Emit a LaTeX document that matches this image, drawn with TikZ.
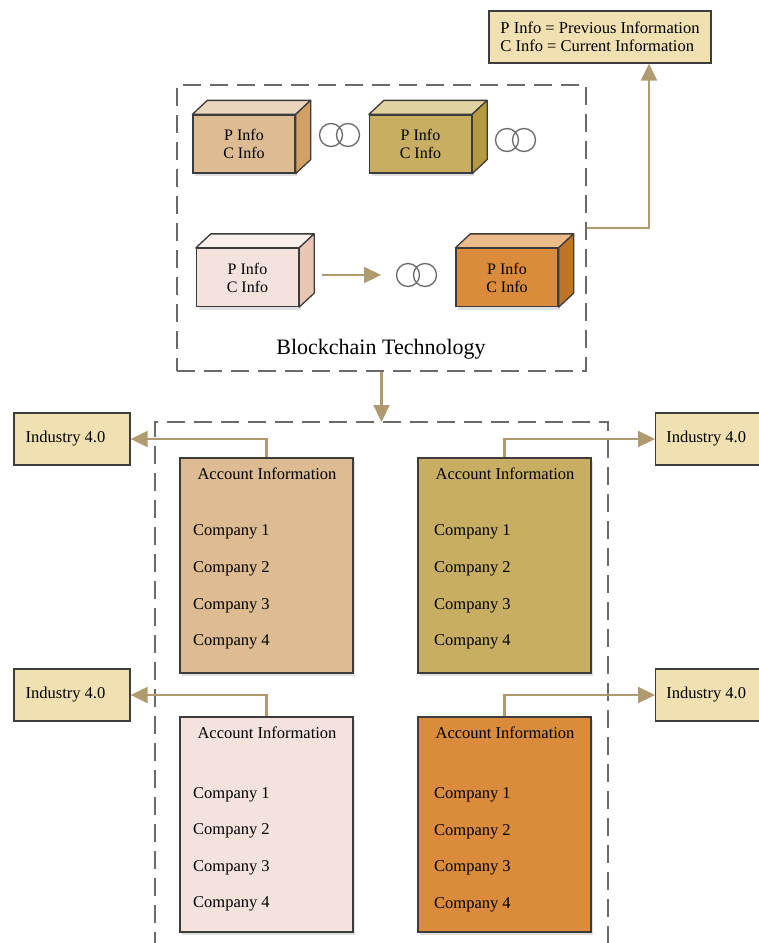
\documentclass[tikz,border=0pt]{standalone}
\usepackage{fontspec}
\setmainfont{Liberation Serif}
\usetikzlibrary{arrows.meta,shadows,positioning}
\definecolor{edge}{HTML}{3C3C3C}
\definecolor{conn}{HTML}{B09A70}
\definecolor{dashc}{HTML}{6A6A6A}
\definecolor{legfill}{HTML}{F1E0B2}
\definecolor{cAf}{HTML}{DDBB93}\definecolor{cAt}{HTML}{EBD5BC}\definecolor{cAs}{HTML}{D0A066}
\definecolor{cBf}{HTML}{C8AE62}\definecolor{cBt}{HTML}{E0D3A0}\definecolor{cBs}{HTML}{B59A40}
\definecolor{cCf}{HTML}{F4E3DC}\definecolor{cCt}{HTML}{FAF0EB}\definecolor{cCs}{HTML}{EAC7B5}
\definecolor{cDf}{HTML}{DB8B3C}\definecolor{cDt}{HTML}{EDBB8A}\definecolor{cDs}{HTML}{C07428}
\tikzset{
  front/.style={draw=edge, line width=1.3pt, minimum width=102pt, minimum height=58pt, inner sep=0pt, align=center, font=\fontsize{16}{18}\selectfont},
  facet/.style={draw=edge, line width=1.3pt, line join=round},
  ring/.style={circle, draw=dashc, line width=1.3pt, minimum size=23pt, inner sep=0pt},
  dbox/.style={draw=dashc, line width=1.6pt, dash pattern=on 18pt off 9pt},
  conn/.style={draw=conn, line width=2.2pt},
  tip/.style={-{Triangle[length=17pt,width=16pt]}},
  acct/.style={draw=edge, line width=1.3pt, minimum width=173pt, minimum height=215pt, inner sep=0pt,
     drop shadow={opacity=0.25, shadow xshift=2pt, shadow yshift=-3pt}},
  txt/.style={font=\fontsize{16.5}{18}\selectfont, inner sep=0pt},
  ind/.style={draw=edge, line width=1.3pt, fill=legfill, minimum width=116pt, minimum height=52pt, inner sep=0pt, font=\fontsize{16.5}{18}\selectfont}
}
\newcommand{\mycube}[4]{%
  \fill[#3, facet] (#1.north west) -- ++(15,-14) -- ([shift={(15,-14)}]#1.north east) -- (#1.north east) -- cycle;
  \fill[#4, facet] (#1.north east) -- ++(15,-14) -- ([shift={(15,-14)}]#1.south east) -- (#1.south east) -- cycle;
}
\begin{document}
\begin{tikzpicture}[x=1pt,y=-1pt]
\useasboundingbox (0,0) rectangle (759,943);
\fill[white] (0,0) rectangle (759,943);

% legend
\node[draw=edge, line width=1.3pt, fill=legfill, minimum width=222pt, minimum height=52pt, align=left, inner sep=0pt, font=\fontsize{16.5}{18}\selectfont] (leg) at (600,37) {P Info = Previous Information\\C Info = Current Information};

% top dashed box
\node[dbox, minimum width=409pt, minimum height=286pt, inner sep=0pt] (top) at (381.5,228) {};
\node[font=\fontsize{22}{24}\selectfont, inner sep=0pt] (bt) at (381,349) {Blockchain Technology};

% cubes
\node[front, fill=cAf, drop shadow={opacity=0.25, shadow xshift=2pt, shadow yshift=-3pt}] (b1) at (244,144) {P Info\\C Info};
\mycube{b1}{}{cAt}{cAs}
\node[front, fill=cBf, drop shadow={opacity=0.25, shadow xshift=2pt, shadow yshift=-3pt}] (b2) at (420.5,144) {P Info\\C Info};
\mycube{b2}{}{cBt}{cBs}
\node[front, fill=cCf, drop shadow={opacity=0.25, shadow xshift=2pt, shadow yshift=-3pt}] (b3) at (247.5,277.5) {P Info\\C Info};
\mycube{b3}{}{cCt}{cCs}
\node[front, fill=cDf, drop shadow={opacity=0.25, shadow xshift=2pt, shadow yshift=-3pt}] (b4) at (507,277.5) {P Info\\C Info};
\mycube{b4}{}{cDt}{cDs}

% rings
\node[ring] (r1a) at (331,135) {};
\node[ring] (r1b) at (348,135) {};
\node[ring] (r2a) at (507,140) {};
\node[ring] (r2b) at (524,140) {};
\node[ring] (r3a) at (408,275) {};
\node[ring] (r3b) at (425,275) {};

\coordinate (a3s) at (322,275);
\coordinate (a3e) at (381,275);
\draw[conn, tip] (a3s) -- (a3e);

% arrow to legend
\coordinate (lc) at (649,228);
\draw[conn, tip] (top.east) -- (lc) -- (lc |- leg.south);

% bottom dashed box (open at the bottom)
\coordinate (bl) at (155,422);
\coordinate (br) at (608,422);
\draw[dbox] (155,950) -- (bl) -- (br) -- (608,950);
\draw[conn, tip] (top.south) -- (top.south |- bl);

% account boxes
\node[acct, fill=cAf] (a1) at (266.5,565.5) {};
\node[acct, fill=cBf] (a2) at (504.5,565.5) {};
\node[acct, fill=cCf] (a3) at (266.5,824.5) {};
\node[acct, fill=cDf] (a4) at (504.5,824.5) {};

\node[txt] (a1h) at (267,474) {Account Information};
\node[txt, anchor=west] (a1c1) at (193,532) {Company 1};
\node[txt, anchor=west] (a1c2) at (193,569) {Company 2};
\node[txt, anchor=west] (a1c3) at (193,606) {Company 3};
\node[txt, anchor=west] (a1c4) at (193,642) {Company 4};

\node[txt] (a2h) at (505,474) {Account Information};
\node[txt, anchor=west] (a2c1) at (434,532) {Company 1};
\node[txt, anchor=west] (a2c2) at (434,569) {Company 2};
\node[txt, anchor=west] (a2c3) at (434,606) {Company 3};
\node[txt, anchor=west] (a2c4) at (434,642) {Company 4};

\node[txt] (a3h) at (267,733) {Account Information};
\node[txt, anchor=west] (a3c1) at (193,795) {Company 1};
\node[txt, anchor=west] (a3c2) at (193,831) {Company 2};
\node[txt, anchor=west] (a3c3) at (193,868) {Company 3};
\node[txt, anchor=west] (a3c4) at (193,904) {Company 4};

\node[txt] (a4h) at (505,733) {Account Information};
\node[txt, anchor=west] (a4c1) at (434,795) {Company 1};
\node[txt, anchor=west] (a4c2) at (434,832) {Company 2};
\node[txt, anchor=west] (a4c3) at (434,868) {Company 3};
\node[txt, anchor=west] (a4c4) at (434,905) {Company 4};

% industry boxes
\node[ind] (i1) at (72,439) {\hspace*{-13pt}Industry 4.0};
\node[ind, anchor=west] (i2) at (655,439) {\hspace*{-15pt}Industry 4.0};
\node[ind] (i3) at (72,695) {\hspace*{-13pt}Industry 4.0};
\node[ind, anchor=west] (i4) at (655,695) {\hspace*{-15pt}Industry 4.0};

\draw[conn, tip] (a1.north) -- (a1.north |- i1.east) -- (i1.east);
\draw[conn, tip] (a2.north) -- (a2.north |- i2.west) -- (i2.west);
\draw[conn, tip] (a3.north) -- (a3.north |- i3.east) -- (i3.east);
\draw[conn, tip] (a4.north) -- (a4.north |- i4.west) -- (i4.west);
\end{tikzpicture}
\end{document}
